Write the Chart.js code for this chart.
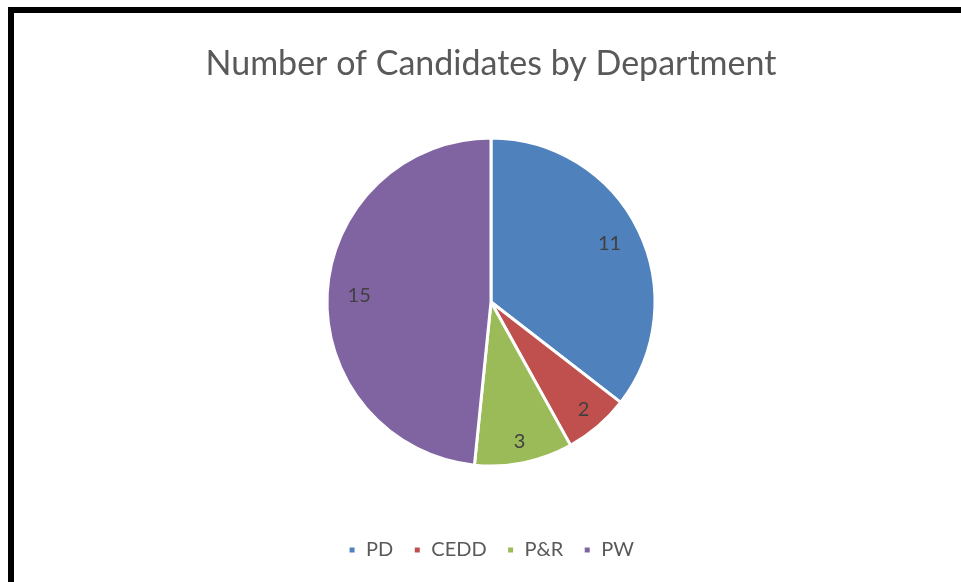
<!DOCTYPE html>
<html>
<head>
<meta charset="utf-8">
<script src="https://cdn.jsdelivr.net/npm/chart.js@4.4.1/dist/chart.umd.min.js"></script>
<style>
  html, body { margin: 0; padding: 0; background: #ffffff; }
  body { width: 961px; height: 582px; position: relative; overflow: hidden; }
  #wrap { position: absolute; left: 0; top: 0; width: 961px; height: 582px; }
  #frame { position: absolute; left: 8px; top: 7px; right: 0; bottom: 0;
           border-top: 6px solid #000; border-left: 6px solid #000; pointer-events: none; }
</style>
</head>
<body>
<div id="wrap"><canvas id="c" width="961" height="582"></canvas></div>
<div id="frame"></div>
<script>
const categories = ["PD", "CEDD", "P&R", "PW"];
const candidates = [11, 2, 3, 15];
const sliceColors = ["#4F81BD", "#C0504D", "#9BBB59", "#8064A2"];
const chartTitle = "Number of Candidates by Department";

const insideEndLabels = {
  id: 'insideEndLabels',
  afterDatasetsDraw(chart) {
    const ctx = chart.ctx;
    const meta = chart.getDatasetMeta(0);
    ctx.save();
    ctx.font = '20px Lato, "Open Sans", sans-serif';
    ctx.fillStyle = '#404040';
    ctx.textAlign = 'center';
    ctx.textBaseline = 'middle';
    meta.data.forEach((arc, i) => {
      const p = arc.getProps(['x', 'y', 'startAngle', 'endAngle', 'outerRadius'], true);
      const mid = (p.startAngle + p.endAngle) / 2;
      const txt = String(chart.data.datasets[0].data[i]);
      const inset = txt.length > 1 ? 32 : 22;
      const r = p.outerRadius - inset;
      ctx.fillText(txt, p.x + Math.cos(mid) * r, p.y + Math.sin(mid) * r);
    });
    ctx.restore();
  }
};

new Chart(document.getElementById('c'), {
  type: 'pie',
  data: {
    labels: categories,
    datasets: [{
      data: candidates,
      backgroundColor: sliceColors,
      borderColor: '#ffffff',
      borderWidth: 3,
      radius: 164
    }]
  },
  options: {
    responsive: false,
    animation: false,
    layout: { padding: { left: 21, right: 0, top: 0, bottom: 12 } },
    plugins: {
      title: {
        display: true,
        text: chartTitle,
        color: '#595959',
        font: { family: 'Lato, "Open Sans", sans-serif', size: 34, weight: 'normal', lineHeight: 1 },
        padding: { top: 47, bottom: 3 }
      },
      legend: {
        position: 'bottom',
        labels: {
          color: '#595959',
          font: { family: 'Lato, "Open Sans", sans-serif', size: 20 },
          boxWidth: 8,
          boxHeight: 8,
          padding: 20
        }
      },
      tooltip: { enabled: false }
    }
  },
  plugins: [insideEndLabels]
});
</script>
</body>
</html>
